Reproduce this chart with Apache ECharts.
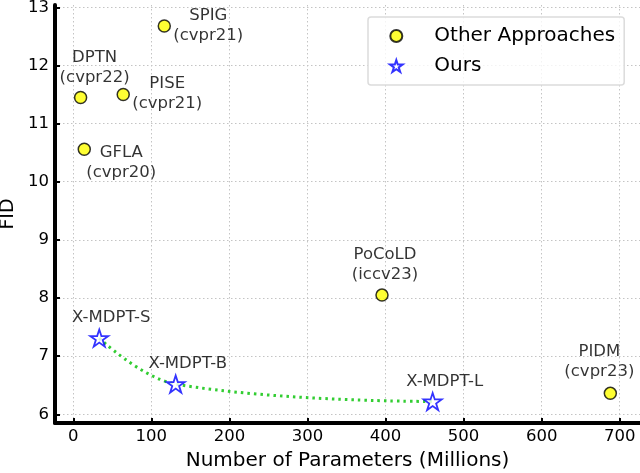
<!DOCTYPE html>
<html>
<head>
<meta charset="utf-8">
<script src="https://cdn.jsdelivr.net/npm/echarts@6/dist/echarts.min.js"></script>
<style>
  html, body { margin: 0; padding: 0; background: #fff; }
  #chart { width: 640px; height: 473px; }
</style>
</head>
<body>
<div id="chart"></div>
<script>
// other methods
const otherNames = ['SPIG', 'DPTN', 'PISE', 'GFLA', 'PoCoLD', 'PIDM']
const otherVenues = ['cvpr21', 'cvpr22', 'cvpr21', 'cvpr20', 'iccv23', 'cvpr23']
const otherParams = [116.6, 9.4, 64, 14.1, 395.5, 688]
const otherFid = [12.68, 11.45, 11.5, 10.56, 8.05, 6.36]

// ours
const oursNames = ['X-MDPT-S', 'X-MDPT-B', 'X-MDPT-L']
const oursParams = [33.3, 131.2, 460.4]
const oursFid = [7.31, 6.52, 6.22]

const xTicks = [0, 100, 200, 300, 400, 500, 600, 700]
const yTicks = [6, 7, 8, 9, 10, 11, 12, 13]

// where each annotation sits relative to its marker (px)
const otherLabelOffsets = [[44, 0], [14, -30], [44, -1], [37, 14], [3, -30], [-11, -32]]
const oursLabelOffsets = [[12, -20], [12, -20], [12, -20]]

const FONT = 'DejaVu Sans'
const STAR = 'path://M0,-100 L22.45,-30.9 L95.1,-30.9 L36.3,11.8 L58.8,80.9 L0,38.2 L-58.8,80.9 L-36.3,11.8 L-95.1,-30.9 L-22.45,-30.9 Z'

const chart = echarts.init(document.getElementById('chart'))

const gridLine = { show: true, lineStyle: { color: '#c4c4c4', type: [1.5, 2.5], width: 1 } }

chart.setOption({
  backgroundColor: '#fff',
  animation: false,
  textStyle: { fontFamily: FONT },
  grid: { left: 55, right: 0, top: 5, bottom: 50, outerBoundsMode: 'none', containLabel: false },
  legend: {
    data: ['Other Approaches', 'Ours'],
    orient: 'vertical',
    left: 368,
    top: 17,
    padding: [8, 9, 8, 21],
    itemWidth: 50,
    itemHeight: 12,
    itemGap: 8,
    borderColor: '#dcdcdc',
    borderWidth: 1.5,
    borderRadius: 3,
    backgroundColor: 'rgba(255,255,255,0.8)',
    textStyle: { fontFamily: FONT, fontSize: 20, lineHeight: 22, color: '#000', padding: [0, 0, 0, 8] },
  },
  xAxis: {
    type: 'value',
    min: -23.4,
    max: 726,
    name: 'Number of Parameters (Millions)',
    nameLocation: 'middle',
    nameGap: 28,
    nameTextStyle: { fontFamily: FONT, fontSize: 20, color: '#000' },
    axisLine: { show: true, onZero: false, lineStyle: { color: '#000', width: 4 } },
    axisTick: { show: true, inside: true, length: 5, lineStyle: { color: '#000', width: 2 }, customValues: xTicks },
    axisLabel: { fontFamily: FONT, fontSize: 16.5, color: '#000', margin: 5, customValues: xTicks },
    splitLine: gridLine,
  },
  yAxis: {
    type: 'value',
    min: 5.85,
    max: 13.04,
    name: 'FID',
    nameLocation: 'middle',
    nameGap: 37,
    nameRotate: 90,
    nameTextStyle: { fontFamily: FONT, fontSize: 19, color: '#000' },
    axisLine: { show: true, onZero: false, lineStyle: { color: '#000', width: 4 } },
    axisTick: { show: true, inside: true, length: 5, lineStyle: { color: '#000', width: 2 }, customValues: yTicks },
    axisLabel: { fontFamily: FONT, fontSize: 16.5, color: '#000', margin: 6, customValues: yTicks },
    splitLine: gridLine,
  },
  series: [
    {
      name: 'trend',
      type: 'line',
      smooth: 0.4,
      symbol: 'none',
      z: 1,
      lineStyle: { color: '#32cd32', width: 3, type: [2.5, 4] },
      data: oursParams.map((p, i) => [p, oursFid[i]]),
      silent: true,
    },
    {
      name: 'Other Approaches',
      type: 'scatter',
      symbol: 'circle',
      symbolSize: 12,
      z: 3,
      itemStyle: { color: '#ffff00', borderColor: '#000', borderWidth: 1.5 },
      data: otherParams.map((p, i) => ({
        value: [p, otherFid[i]],
        label: {
          show: true,
          position: 'inside',
          offset: otherLabelOffsets[i],
          formatter: otherNames[i] + '\n(' + otherVenues[i] + ')',
        },
      })),
      label: { fontFamily: FONT, fontSize: 16.5, lineHeight: 20, color: '#000', align: 'center' },
    },
    {
      name: 'Ours',
      type: 'scatter',
      symbol: STAR,
      symbolKeepAspect: true,
      symbolSize: 18,
      z: 3,
      itemStyle: { color: '#fff', borderColor: '#0000ff', borderWidth: 1.8 },
      data: oursParams.map((p, i) => ({
        value: [p, oursFid[i]],
        label: {
          show: true,
          position: 'inside',
          offset: oursLabelOffsets[i],
          formatter: oursNames[i],
        },
      })),
      label: { fontFamily: FONT, fontSize: 16.5, lineHeight: 20, color: '#000', align: 'center' },
    },
  ],
})
</script>
</body>
</html>
